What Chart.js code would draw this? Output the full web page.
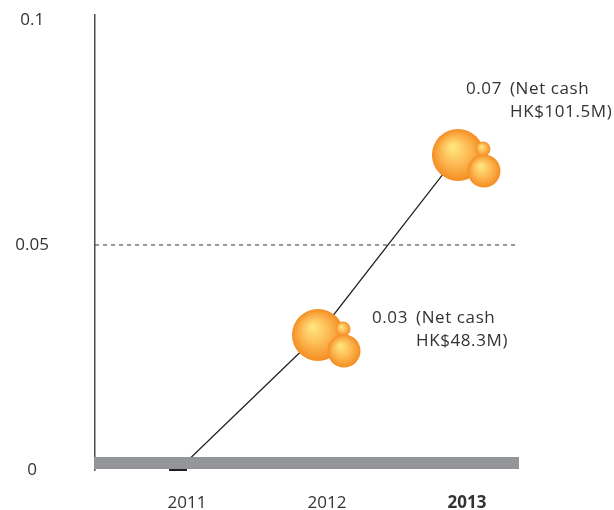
<!DOCTYPE html>
<html>
<head>
<meta charset="utf-8">
<script src="https://cdn.jsdelivr.net/npm/chart.js@4/dist/chart.umd.min.js"></script>
<style>
  html, body { margin: 0; padding: 0; background: #fff; }
  #wrap { width: 614px; height: 510px; }
</style>
</head>
<body>
<div id="wrap"><canvas id="chart-dps"></canvas></div>
<script>
// Dividend per share, HK$
const YEARS = [2011, 2012, 2013];
const DPS = [0, 0.03, 0.07];
const NET_CASH = [null, 'HK$48.3M', 'HK$101.5M'];
const Y_TICKS = [0, 0.05, 0.1];
const REF_LINE = 0.05;

const X_MIN = 2010.407;
const X_MAX = 2013.436;
const Y_MAX = 0.1011;

const FONT = '"Open Sans", Lato, sans-serif';
const TEXT = '#333333';
const BAND = '#939598';

function sphere(ctx, x, y, r) {
  const g = ctx.createRadialGradient(x - r * 0.22, y - r * 0.32, r * 0.04, x, y, r);
  g.addColorStop(0, '#ffe67e');
  g.addColorStop(0.5, '#fdbb55');
  g.addColorStop(1, '#f48d22');
  ctx.fillStyle = g;
  ctx.beginPath();
  ctx.arc(x, y, r, 0, Math.PI * 2);
  ctx.fill();
}

// grey base band + bubble clusters + value labels
const decorations = {
  id: 'decorations',
  afterDatasetsDraw(chart) {
    const { ctx, chartArea } = chart;
    const y0 = chart.scales.y.getPixelForValue(0);
    ctx.save();
    ctx.fillStyle = BAND;
    ctx.fillRect(chartArea.left - 1, y0 - 13, chartArea.right - chartArea.left + 1, 12);

    const pts = chart.getDatasetMeta(0).data;
    DPS.forEach((v, i) => {
      if (!NET_CASH[i]) return;
      const { x, y } = pts[i];
      sphere(ctx, x, y, 26);
      sphere(ctx, x + 25, y - 6, 7.5);
      sphere(ctx, x + 26, y + 16, 16.5);
    });

    ctx.fillStyle = TEXT;
    ctx.font = '17px ' + FONT;
    ctx.letterSpacing = '0.6px';
    ctx.textBaseline = 'middle';
    ctx.textAlign = 'left';
    const offs = [null, { dx: 54, dy: -17 }, { dx: 8, dy: -66 }];
    DPS.forEach((v, i) => {
      if (!NET_CASH[i]) return;
      const p = pts[i];
      const tx = p.x + offs[i].dx, ty = p.y + offs[i].dy;
      ctx.fillText(v.toFixed(2), tx, ty);
      const nx = tx + ctx.measureText(v.toFixed(2)).width + 8;
      ctx.fillText('(Net cash', nx, ty);
      ctx.fillText(NET_CASH[i] + ')', nx, ty + 23);
    });
    ctx.restore();
  },
};

new Chart(document.getElementById('chart-dps'), {
  type: 'line',
  data: {
    datasets: [
      {
        data: YEARS.map((yr, i) => ({ x: yr, y: DPS[i] })),
        borderColor: '#231f20',
        borderWidth: 1.2,
        pointStyle: 'line',
        pointRadius: DPS.map((v, i) => (NET_CASH[i] ? 0 : 9)),
        pointBorderColor: '#231f20',
        pointBorderWidth: 2,
        clip: false,
      },
      {
        data: [{ x: X_MIN, y: REF_LINE }, { x: X_MAX, y: REF_LINE }],
        borderColor: '#333',
        borderWidth: 1,
        borderDash: [4, 4],
        pointRadius: 0,
      },
    ],
  },
  options: {
    responsive: true,
    maintainAspectRatio: false,
    animation: false,
    layout: { padding: { top: 15, right: 95, left: 0, bottom: 0 } },
    plugins: { legend: { display: false }, tooltip: { enabled: false } },
    scales: {
      x: {
        type: 'linear',
        min: X_MIN,
        max: X_MAX,
        grid: { display: false },
        border: { display: false },
        afterBuildTicks: s => { s.ticks = YEARS.map(v => ({ value: v })); },
        afterFit: s => { s.height = 40; s.paddingLeft = 0; s.paddingRight = 0; },
        ticks: {
          padding: 15,
          labelOffset: 9,
          color: TEXT,
          font: c => ({ family: FONT, size: 17, weight: c.tick && c.tick.value === 2013 ? 'bold' : 'normal' }),
          callback: v => String(v),
        },
      },
      y: {
        min: 0,
        max: Y_MAX,
        grid: { display: false },
        border: { display: true, color: '#4d4d4d', width: 1.5 },
        afterBuildTicks: s => { s.ticks = Y_TICKS.map(v => ({ value: v })); },
        afterFit: s => { s.width = 95; s.paddingTop = 0; s.paddingBottom = 0; },
        ticks: {
          crossAlign: 'center',
          padding: 38,
          color: TEXT,
          font: { family: FONT, size: 17 },
          callback: v => String(v),
        },
      },
    },
  },
  plugins: [decorations],
});
</script>
</body>
</html>
